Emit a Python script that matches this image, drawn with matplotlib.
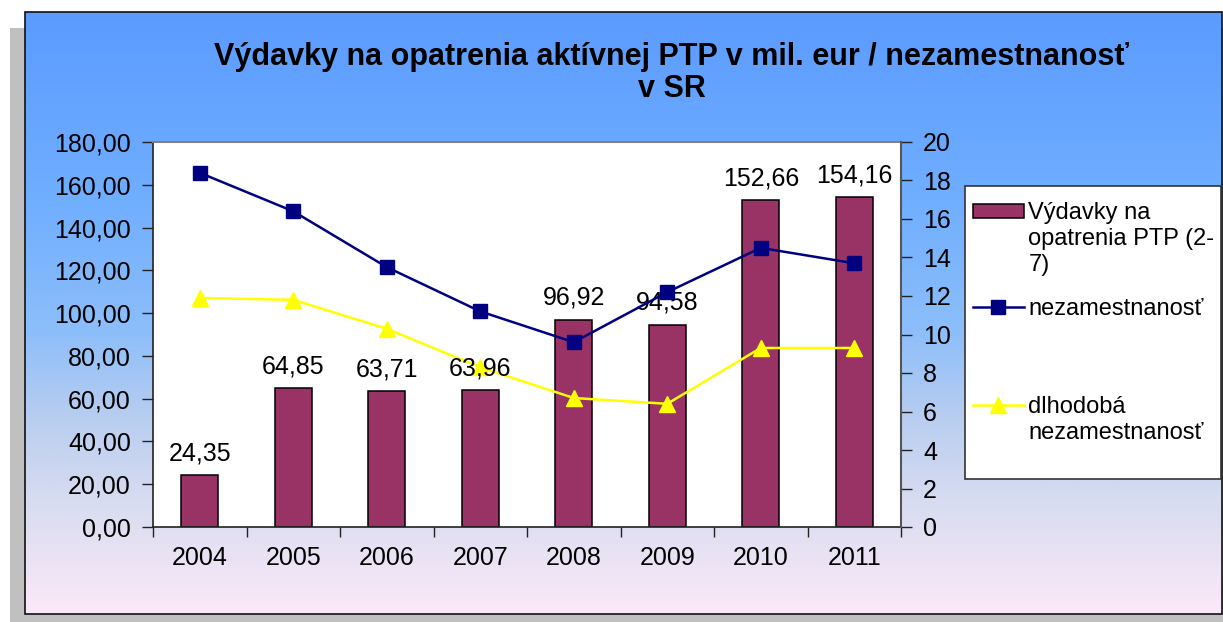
import numpy as np
import matplotlib
matplotlib.use("Agg")
import matplotlib.pyplot as plt
from matplotlib.patches import Rectangle
from matplotlib.lines import Line2D
from matplotlib.ticker import FixedLocator

plt.rcParams['font.family'] = ['Liberation Sans', 'DejaVu Sans']

# ---- data ----
years = ["2004", "2005", "2006", "2007", "2008", "2009", "2010", "2011"]
vydavky = [24.35, 64.85, 63.71, 63.96, 96.92, 94.58, 152.66, 154.16]
nezamestnanost = [18.4, 16.4, 13.5, 11.2, 9.6, 12.2, 14.5, 13.7]
dlhodoba = [11.9, 11.8, 10.3, 8.3, 6.7, 6.4, 9.3, 9.3]
left_ticks = [0, 20, 40, 60, 80, 100, 120, 140, 160, 180]
right_ticks = [0, 2, 4, 6, 8, 10, 12, 14, 16, 18, 20]
title = "Výdavky na opatrenia aktívnej PTP v mil. eur / nezamestnanosť\nv SR"
lbl_bar = "Výdavky na\nopatrenia PTP (2-\n7)"
lbl_nez = "nezamestnanosť"
lbl_dlh = "dlhodobá\nnezamestnanosť"

W, H = 1223, 622
fig = plt.figure(figsize=(W / 100, H / 100), dpi=100)
fig.patch.set_facecolor("white")

# ---- background (shadow, gradient, frame) ----
bg = fig.add_axes([0, 0, 1, 1], zorder=-5)
bg.axis("off")
bg.add_patch(Rectangle((10, 28), W - 10, H - 28, facecolor="#C0C0C0", edgecolor="none", zorder=0))
rows = np.arange(12, 615)
stops_y = [12, 200, 330, 420, 500, 614]
stops_c = np.array([[91, 155, 255], [112, 174, 255], [140, 190, 250],
                     [185, 206, 240], [215, 220, 240], [252, 233, 248]]) / 255
grad = np.stack([np.interp(rows, stops_y, stops_c[:, k]) for k in range(3)], axis=-1)[:, None, :]
bg.imshow(grad, extent=(25, 1222, 614, 12), aspect="auto", interpolation="bilinear", zorder=1)
bg.add_patch(Rectangle((25, 12), 1197, 602, fill=False, edgecolor="#111111", lw=1.2, zorder=2))
bg.add_patch(Rectangle((965, 186), 256, 293, facecolor="white", edgecolor="#333333", lw=1.2, zorder=3))
bg.set_xlim(0, W)
bg.set_ylim(H, 0)

fig.text(672 / W, 1 - 73 / H, title, ha="center", va="center", fontsize=22,
         fontweight="bold", linespacing=1.05)

# ---- main axes ----
ax = fig.add_axes([153 / W, 1 - 527 / H, (901 - 153) / W, (527 - 142) / H])
ax.set_facecolor("white")
x = np.arange(len(years))
bars = ax.bar(x, vydavky, width=0.4, color="#993366", edgecolor="black", linewidth=1.1, zorder=2)
ax.set_xlim(-0.5, len(years) - 0.5)
ax.set_ylim(0, 180)
ax.set_yticks(left_ticks)
ax.set_yticklabels([f"{v:.2f}".replace(".", ",") for v in left_ticks])
ax.set_xticks(x)
ax.set_xticklabels(years)
ax.xaxis.set_minor_locator(FixedLocator(np.arange(-0.5, len(years), 1.0)))
ax.tick_params(axis="x", which="major", length=0, pad=14, labelsize=18)
ax.tick_params(axis="x", which="minor", length=7, width=1, direction="out", color="#222222")
ax.tick_params(axis="y", length=8, width=1, direction="out", pad=8, labelsize=18, color="#222222")
for s in ["left", "bottom"]:
    ax.spines[s].set_color("#222222")
    ax.spines[s].set_linewidth(1.2)
ax.spines["top"].set_color("#808080")
ax.spines["top"].set_linewidth(1.5)
ax.spines["right"].set_visible(False)

ax2 = ax.twinx()
ax2.set_ylim(0, 20)
ax2.set_yticks(right_ticks)
ax2.tick_params(axis="y", length=8, width=1, direction="out", pad=8, labelsize=18, color="#222222")
ax2.spines["right"].set_color("#555555")
ax2.spines["right"].set_linewidth(1.5)
for s in ["left", "top", "bottom"]:
    ax2.spines[s].set_visible(False)

l_dlh, = ax2.plot(x, dlhodoba, color="#FFFF00", lw=1.8, marker="^", markersize=11,
                  markerfacecolor="#FFFF00", markeredgecolor="#FFFF00", zorder=2)
for xi, v in zip(x, vydavky):
    ax2.annotate(f"{v:.2f}".replace(".", ","), xy=(xi, v), xycoords=ax.transData,
                 xytext=(0, 7), textcoords="offset points", ha="center", va="bottom",
                 fontsize=18, zorder=3)
l_nez, = ax2.plot(x, nezamestnanost, color="#000080", lw=1.8, marker="s", markersize=10,
                  markerfacecolor="#000080", markeredgecolor="#000080", zorder=4)

# ---- legend ----
blank = Line2D([], [], color="none")
fs = 17
common = dict(loc="upper left", bbox_transform=fig.transFigure, frameon=False, fontsize=fs,
              borderpad=0, borderaxespad=0, handlelength=2.15, handletextpad=0.2,
              labelspacing=0.17, handleheight=0.55)
leg1 = fig.legend([bars, blank, blank], lbl_bar.split("\n"),
                  bbox_to_anchor=(973 / W, 1 - 202 / H), **common)
leg2 = fig.legend([l_nez], [lbl_nez], bbox_to_anchor=(973 / W, 1 - 298 / H), **common)
leg3 = fig.legend([l_dlh, blank], lbl_dlh.split("\n"),
                  bbox_to_anchor=(973 / W, 1 - 396 / H), **common)

fig.savefig("out.png", dpi=100)
